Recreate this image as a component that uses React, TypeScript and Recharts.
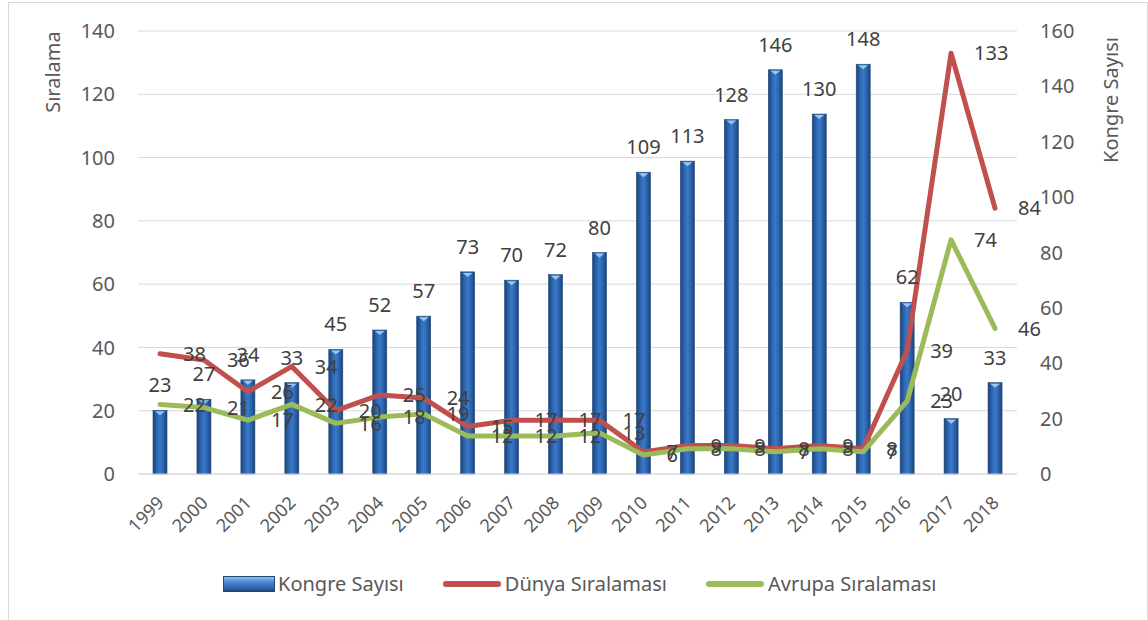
import React from 'react';
import { ComposedChart, Bar, Line, XAxis, YAxis, CartesianGrid, Legend, LabelList, Label } from 'recharts';

const years = ['1999', '2000', '2001', '2002', '2003', '2004', '2005', '2006', '2007', '2008', '2009', '2010', '2011', '2012', '2013', '2014', '2015', '2016', '2017', '2018'];
const kongreSayisi = [23, 27, 34, 33, 45, 52, 57, 73, 70, 72, 80, 109, 113, 128, 146, 130, 148, 62, 20, 33];
const dunyaSiralamasi = [38, 36, 26, 34, 20, 25, 24, 15, 17, 17, 17, 7, 9, 9, 8, 9, 8, 39, 133, 84];
const avrupaSiralamasi = [22, 21, 17, 22, 16, 18, 19, 12, 12, 12, 13, 6, 8, 8, 7, 8, 7, 23, 74, 46];
const leftTicks = [0, 20, 40, 60, 80, 100, 120, 140];
const rightTicks = [0, 20, 40, 60, 80, 100, 120, 140, 160];

const data = years.map((year, i) => ({
  year,
  kongre: kongreSayisi[i],
  dunya: dunyaSiralamasi[i],
  avrupa: avrupaSiralamasi[i],
}));

const FONT = '"Noto Sans", "Open Sans", sans-serif';
const AXIS_TEXT = '#595959';
const LABEL_TEXT = '#404040';
const RED = '#C0504D';
const GREEN = '#9BBB59';

const BevelBar = (props: any) => {
  const { x, y, width, height } = props;
  if (!height || height <= 0) return null;
  return (
    <g>
      <rect x={x} y={y} width={width} height={height} fill="url(#barGrad)" stroke="#1E4676" strokeWidth={0.6} />
      <polygon
        points={`${x + 2},${y + 1} ${x + width - 2},${y + 1} ${x + width / 2},${y + 5}`}
        fill="#9CC3EE"
      />
    </g>
  );
};

const barLabel = (props: any) => {
  const { x, y, width, value } = props;
  return (
    <text x={x + width / 2} y={y - 18} textAnchor="middle" fontSize={20} fill={LABEL_TEXT} fontFamily={FONT}>
      {value}
    </text>
  );
};

const lineLabel = (props: any) => {
  const { x, y, value } = props;
  return (
    <text x={x + 23} y={y} dy="0.36em" fontSize={20} fill={LABEL_TEXT} fontFamily={FONT}>
      {value}
    </text>
  );
};

const YearTick = (props: any) => {
  const { x, y, payload } = props;
  const px = x + 5;
  const py = y + 30;
  return (
    <text
      x={px}
      y={py}
      textAnchor="end"
      transform={`rotate(-45 ${px} ${py})`}
      fontSize={18}
      fill={AXIS_TEXT}
      fontFamily={FONT}
    >
      {payload.value}
    </text>
  );
};

const LegendIcon = ({ type, color }: { type: string; color: string }) => {
  if (type === 'bar') {
    return (
      <svg width={52} height={16}>
        <defs>
          <linearGradient id="legendGrad" x1="0" y1="0" x2="0" y2="1">
            <stop offset="0%" stopColor="#9CC3EE" />
            <stop offset="35%" stopColor="#4F8BD6" />
            <stop offset="75%" stopColor="#2F67AE" />
            <stop offset="100%" stopColor="#1E4676" />
          </linearGradient>
        </defs>
        <rect x={0.5} y={0.5} width={51} height={15} fill="url(#legendGrad)" stroke="#1E4676" strokeWidth={1} />
      </svg>
    );
  }
  return (
    <svg width={60} height={16}>
      <line x1={4} y1={8} x2={56} y2={8} stroke={color} strokeWidth={6} strokeLinecap="round" />
    </svg>
  );
};

const legendItems = [
  { label: 'Kongre Sayısı', type: 'bar', color: '#2F67AE' },
  { label: 'Dünya Sıralaması', type: 'line', color: RED },
  { label: 'Avrupa Sıralaması', type: 'line', color: GREEN },
];

const renderLegend = () => (
  <div style={{ display: 'flex', alignItems: 'center', paddingLeft: 223, fontFamily: FONT, fontSize: 20, color: AXIS_TEXT }}>
    {legendItems.map((item, i) => (
      <div key={item.label} style={{ display: 'flex', alignItems: 'center', marginLeft: i === 0 ? 0 : 38 }}>
        <LegendIcon type={item.type} color={item.color} />
        <span style={{ marginLeft: 3, lineHeight: '24px' }}>{item.label}</span>
      </div>
    ))}
  </div>
);

export default function App() {
  return (
    <div style={{ position: 'absolute', left: 0, top: 0, width: 1148, height: 620, overflow: 'hidden', background: '#fff' }}>
      <div
        style={{
          position: 'absolute',
          left: 8,
          top: 2,
          width: 1138,
          height: 640,
          border: '1px solid #D9D9D9',
        }}
      />
      <ComposedChart width={1148} height={620} data={data} margin={{ top: 31, right: 0, bottom: 0, left: 0 }}>
        <defs>
          <linearGradient id="barGrad" x1="0" y1="0" x2="1" y2="0">
            <stop offset="0%" stopColor="#1B4379" />
            <stop offset="30%" stopColor="#2E68B3" />
            <stop offset="50%" stopColor="#3A79C8" />
            <stop offset="70%" stopColor="#2E68B3" />
            <stop offset="100%" stopColor="#1B4379" />
          </linearGradient>
        </defs>
        <CartesianGrid yAxisId="left" horizontal vertical={false} stroke="#D9D9D9" strokeWidth={1} />
        <XAxis
          dataKey="year"
          height={146}
          interval={0}
          tickLine={false}
          tickSize={0}
          tickMargin={0}
          axisLine={{ stroke: '#D9D9D9', strokeWidth: 1 }}
          tick={<YearTick />}
        />
        <YAxis
          yAxisId="left"
          orientation="left"
          width={138}
          domain={[0, 140]}
          ticks={leftTicks}
          axisLine={false}
          tickLine={false}
          tickSize={0}
          tickMargin={23}
          tick={{ fontSize: 20, fill: AXIS_TEXT, fontFamily: FONT }}
        >
          <Label
            content={() => (
              <text
                x={53}
                y={72}
                textAnchor="middle"
                dy="0.36em"
                transform="rotate(-90 53 72)"
                fontSize={20}
                fill={AXIS_TEXT}
                fontFamily={FONT}
              >
                Sıralama
              </text>
            )}
          />
        </YAxis>
        <YAxis
          yAxisId="right"
          orientation="right"
          width={131}
          domain={[0, 160]}
          ticks={rightTicks}
          axisLine={false}
          tickLine={false}
          tickSize={0}
          tickMargin={23}
          tick={{ fontSize: 20, fill: AXIS_TEXT, fontFamily: FONT }}
        >
          <Label
            content={() => (
              <text
                x={1111}
                y={100}
                textAnchor="middle"
                dy="0.36em"
                transform="rotate(-90 1111 100)"
                fontSize={20}
                fill={AXIS_TEXT}
                fontFamily={FONT}
              >
                Kongre Sayısı
              </text>
            )}
          />
        </YAxis>
        <Legend
          verticalAlign="middle"
          align="center"
          layout="horizontal"
          content={renderLegend}
          wrapperStyle={{ top: 572, left: 0, width: 1148 }}
        />
        <Bar yAxisId="right" dataKey="kongre" name="Kongre Sayısı" barSize={14} shape={<BevelBar />} isAnimationActive={false}>
          <LabelList dataKey="kongre" content={barLabel} />
        </Bar>
        <Line
          yAxisId="left"
          type="linear"
          dataKey="dunya"
          name="Dünya Sıralaması"
          stroke={RED}
          strokeWidth={5}
          strokeLinejoin="round"
          strokeLinecap="round"
          dot={false}
          activeDot={false}
          isAnimationActive={false}
        >
          <LabelList dataKey="dunya" content={lineLabel} />
        </Line>
        <Line
          yAxisId="left"
          type="linear"
          dataKey="avrupa"
          name="Avrupa Sıralaması"
          stroke={GREEN}
          strokeWidth={5}
          strokeLinejoin="round"
          strokeLinecap="round"
          dot={false}
          activeDot={false}
          isAnimationActive={false}
        >
          <LabelList dataKey="avrupa" content={lineLabel} />
        </Line>
      </ComposedChart>
    </div>
  );
}
